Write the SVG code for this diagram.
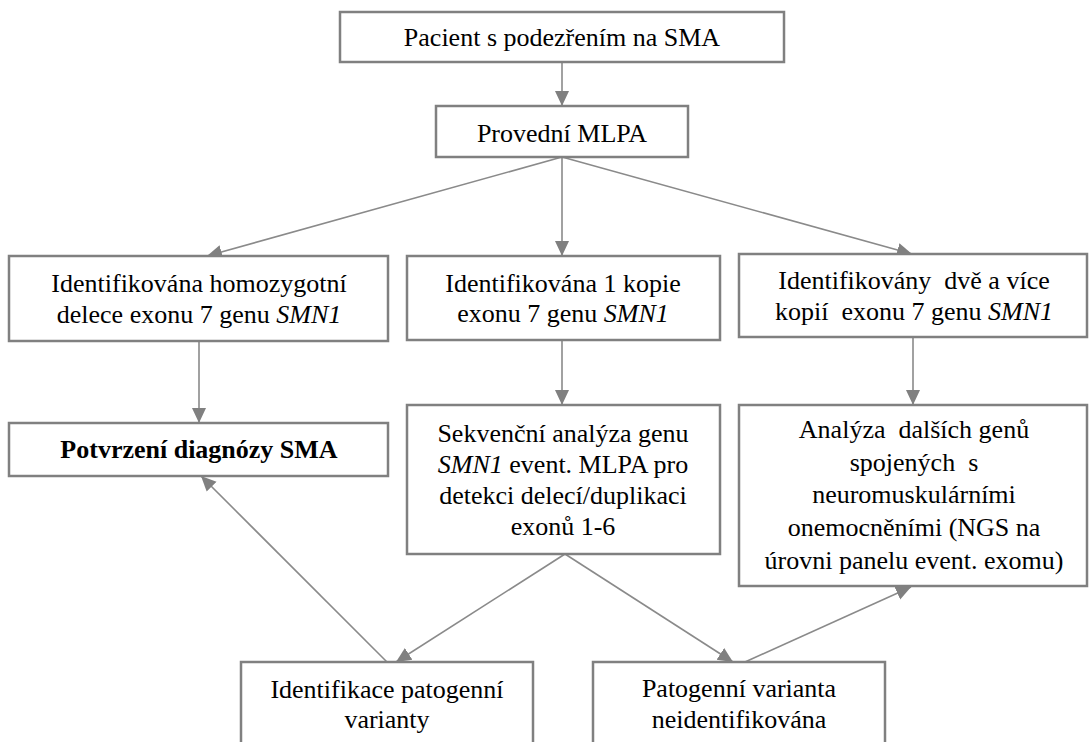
<svg xmlns="http://www.w3.org/2000/svg" width="1090" height="742" viewBox="0 0 1090 742">
<style>
.box{fill:#ffffff;stroke:#808080;stroke-width:2.5}
.t{font-family:"Liberation Serif","Times New Roman",serif;font-size:26px;fill:#000;text-anchor:middle}
.b{font-weight:bold}
.i{font-style:italic}
.c{stroke:#8a8a8a;stroke-width:1.6;fill:none;marker-end:url(#ah)}
</style>
<defs>
<marker id="ah" markerUnits="userSpaceOnUse" markerWidth="16" markerHeight="16" viewBox="0 0 16 16" refX="15" refY="8" orient="auto">
<path d="M0,1 L15,8 L0,15 Z" fill="#808080"/>
</marker>
</defs>
<rect width="1090" height="742" fill="#ffffff"/>
<g id="connectors">
<line class="c" x1="562" y1="62" x2="562" y2="106"/>
<line class="c" x1="562" y1="157" x2="207" y2="256"/>
<line class="c" x1="562" y1="157" x2="562" y2="256"/>
<line class="c" x1="562" y1="157" x2="912" y2="254"/>
<line class="c" x1="199" y1="341" x2="199" y2="423"/>
<line class="c" x1="562" y1="340" x2="562" y2="405"/>
<line class="c" x1="913" y1="337" x2="913" y2="405"/>
<line class="c" x1="565" y1="554" x2="396" y2="662"/>
<line class="c" x1="565" y1="554" x2="733" y2="662"/>
<line class="c" x1="387" y1="662" x2="201" y2="476"/>
<line class="c" x1="745" y1="662" x2="911" y2="587"/>
</g>
<g id="n1">
<rect class="box" x="340" y="12" width="444" height="50"/>
<text class="t" x="562" y="46">Pacient s podezřením na SMA</text>
</g>
<g id="n2">
<rect class="box" x="436" y="106" width="252" height="51"/>
<text class="t" x="562" y="142">Provední MLPA</text>
</g>
<g id="n3">
<rect class="box" x="9" y="256" width="379" height="85"/>
<text class="t" x="199" y="292">Identifikována homozygotní</text>
<text class="t" x="199" y="323">delece exonu 7 genu <tspan class="i">SMN1</tspan></text>
</g>
<g id="n4">
<rect class="box" x="407" y="256" width="313" height="84"/>
<text class="t" x="563" y="292">Identifikována 1 kopie</text>
<text class="t" x="563" y="322">exonu 7 genu <tspan class="i">SMN1</tspan></text>
</g>
<g id="n5">
<rect class="box" x="739" y="254" width="348" height="83"/>
<text class="t" x="914" y="289" xml:space="preserve">Identifikovány  dvě a více</text>
<text class="t" x="914" y="320" xml:space="preserve">kopií  exonu 7 genu <tspan class="i">SMN1</tspan></text>
</g>
<g id="n6">
<rect class="box" x="9" y="423" width="379" height="53"/>
<text class="t b" x="199" y="458">Potvrzení diagnózy SMA</text>
</g>
<g id="n7">
<rect class="box" x="407" y="405" width="313" height="149"/>
<text class="t" x="563" y="442">Sekvenční analýza genu</text>
<text class="t" x="563" y="473"><tspan class="i">SMN1</tspan> event. MLPA pro</text>
<text class="t" x="563" y="504">detekci delecí/duplikaci</text>
<text class="t" x="563" y="535">exonů 1-6</text>
</g>
<g id="n8">
<rect class="box" x="739" y="405" width="348" height="181"/>
<text class="t" x="914" y="438" xml:space="preserve">Analýza  dalších genů</text>
<text class="t" x="914" y="471" xml:space="preserve">spojených  s</text>
<text class="t" x="914" y="503">neuromuskulárními</text>
<text class="t" x="914" y="536">onemocněními (NGS na</text>
<text class="t" x="914" y="569">úrovni panelu event. exomu)</text>
</g>
<g id="n9">
<rect class="box" x="241" y="662" width="292" height="100"/>
<text class="t" x="387" y="698">Identifikace patogenní</text>
<text class="t" x="387" y="728">varianty</text>
</g>
<g id="n10">
<rect class="box" x="593" y="662" width="292" height="100"/>
<text class="t" x="739" y="697">Patogenní varianta</text>
<text class="t" x="739" y="728">neidentifikována</text>
</g>
</svg>
